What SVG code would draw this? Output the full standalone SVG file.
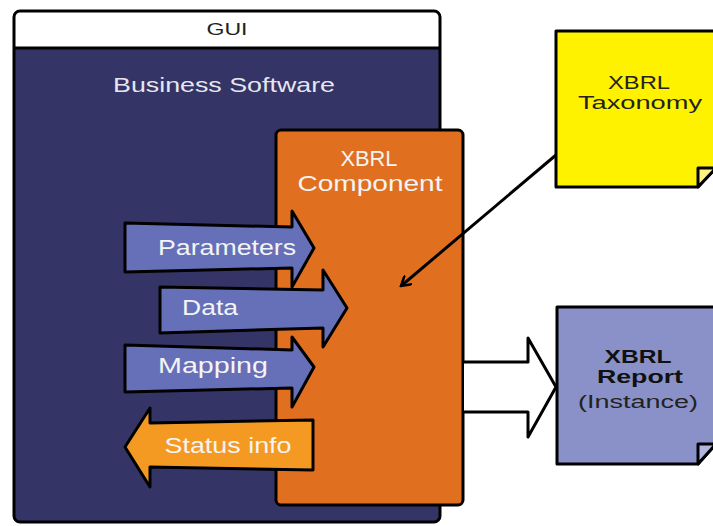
<svg xmlns="http://www.w3.org/2000/svg" width="713" height="526" viewBox="0 0 713 526">
<defs>
<style>
text{font-family:"Liberation Sans","Arial",sans-serif;text-anchor:middle}
.ln{stroke:#000;stroke-width:3;stroke-linejoin:round}
.wt{fill:#f4f4f4}
.in{fill:#6670b8}
</style>
<marker id="ah" markerWidth="12" markerHeight="12" refX="10" refY="6" orient="auto" markerUnits="userSpaceOnUse" viewBox="0 0 12 12">
<path d="M0,0 L10,6 L0,12" fill="none" stroke="#000" stroke-width="2.5"/>
</marker>
</defs>
<rect width="713" height="526" fill="#fff"/>
<g id="gui">
<rect x="14" y="11" width="426" height="511" rx="6" fill="#343466"/>
<path d="M14,48 V17 Q14,11 20,11 H434 Q440,11 440,17 V48 Z" fill="#fff"/>
<line x1="14" y1="48" x2="440" y2="48" class="ln"/>
<rect x="14" y="11" width="426" height="511" rx="6" fill="none" class="ln"/>
<text x="227" y="35" font-size="17" fill="#222" textLength="41" lengthAdjust="spacingAndGlyphs">GUI</text>
<text x="224" y="92" font-size="21" fill="#e6e6ee" textLength="222" lengthAdjust="spacingAndGlyphs">Business Software</text>
</g>
<g id="component">
<rect x="276" y="130" width="187" height="375" rx="5" fill="#e07020" class="ln"/>
<text x="369" y="166" font-size="22" class="wt" textLength="57" lengthAdjust="spacingAndGlyphs">XBRL</text>
<text x="370" y="191" font-size="22" class="wt" textLength="145" lengthAdjust="spacingAndGlyphs">Component</text>
</g>
<g id="parameters">
<path d="M125,223 L292,227 L292,211 L314,248 L292,287 L292,268 L125,272 Z" class="in ln"/>
<text x="227" y="255" font-size="22" class="wt" textLength="138" lengthAdjust="spacingAndGlyphs">Parameters</text>
</g>
<g id="data">
<path d="M160,287 L323,290 L323,270 L347,308 L323,347 L323,328 L160,333 Z" class="in ln"/>
<text x="210" y="315" font-size="22" class="wt" textLength="56" lengthAdjust="spacingAndGlyphs">Data</text>
</g>
<g id="mapping">
<path d="M125,345 L292,350 L292,337 L314,367 L292,407 L292,388 L125,392 Z" class="in ln"/>
<text x="213" y="373" font-size="22" class="wt" textLength="110" lengthAdjust="spacingAndGlyphs">Mapping</text>
</g>
<g id="status">
<path d="M313,420 L150,423 L150,408 L125,447 L150,487 L150,467 L313,470 Z" fill="#f49a22" class="ln"/>
<text x="228" y="453" font-size="22" class="wt" textLength="127" lengthAdjust="spacingAndGlyphs">Status info</text>
</g>
<g id="taxonomy">
<path d="M556,31 H716 V168 L698,187 H556 Z" fill="#fff200" class="ln"/>
<path d="M698,187 V168 H716 Z" fill="#fff480" class="ln"/>
<text x="639" y="89" font-size="17.5" fill="#222" textLength="62" lengthAdjust="spacingAndGlyphs">XBRL</text>
<text x="640" y="109" font-size="17.5" fill="#222" textLength="124" lengthAdjust="spacingAndGlyphs">Taxonomy</text>
</g>
<g id="report">
<path d="M557,307 H716 V444 L698,464 H557 Z" fill="#8a91c8" class="ln"/>
<path d="M698,464 V444 H716 Z" fill="#b0b6e0" class="ln"/>
<text x="638" y="363" font-size="17.5" font-weight="bold" fill="#111" textLength="67" lengthAdjust="spacingAndGlyphs">XBRL</text>
<text x="640" y="383" font-size="17.5" font-weight="bold" fill="#111" textLength="86" lengthAdjust="spacingAndGlyphs">Report</text>
<text x="638" y="408" font-size="17.5" fill="#222" textLength="120" lengthAdjust="spacingAndGlyphs">(Instance)</text>
</g>
<g id="connectors">
<line x1="556" y1="155" x2="401" y2="286" stroke="#000" stroke-width="3" marker-end="url(#ah)"/>
<path d="M464,362 H528 V338 L556,387 L528,437 V412 H464" fill="#fff" class="ln"/>
</g>
</svg>
